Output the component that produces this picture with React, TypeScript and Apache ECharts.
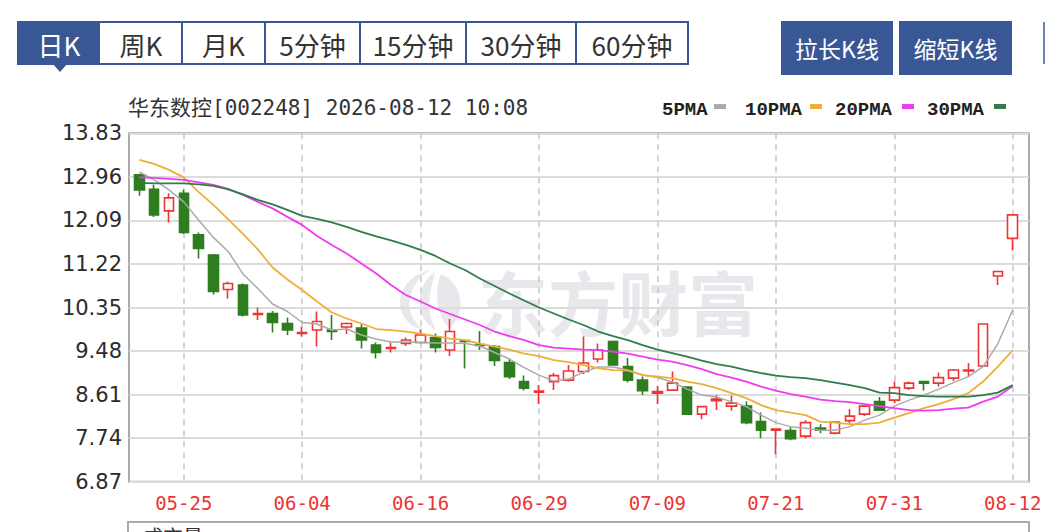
import React, { useEffect, useRef } from "react";
import * as echarts from "echarts";

const dates = [
  "05-20", "05-21", "05-22", "05-25", "05-26", "05-27", "05-28", "05-29", "06-01", "06-02",
  "06-03", "06-04", "06-05", "06-08", "06-09", "06-10", "06-11", "06-12", "06-15", "06-16",
  "06-17", "06-18", "06-22", "06-23", "06-24", "06-25", "06-26", "06-29", "06-30", "07-01",
  "07-02", "07-03", "07-06", "07-07", "07-08", "07-09", "07-10", "07-13", "07-14", "07-15",
  "07-16", "07-17", "07-20", "07-21", "07-22", "07-23", "07-24", "07-27", "07-28", "07-29",
  "07-30", "07-31", "08-03", "08-04", "08-05", "08-06", "08-07", "08-10", "08-11", "08-12",
];

const openP = [
  13.0, 12.71, 12.28, 12.63, 11.8, 11.4, 10.71, 10.8, 10.21, 10.23,
  10.03, 9.83, 9.9, 9.9, 9.96, 9.94, 9.6, 9.53, 9.63, 9.65,
  9.75, 9.5, 9.69, 9.61, 9.57, 9.25, 8.87, 8.66, 8.87, 8.9,
  9.07, 9.32, 9.67, 9.17, 8.9, 8.64, 8.7, 8.76, 8.22, 8.49,
  8.38, 8.38, 8.07, 7.9, 7.89, 7.78, 7.94, 7.84, 8.09, 8.22,
  8.47, 8.5, 8.74, 8.87, 8.84, 8.94, 9.08, 9.18, 10.98, 11.73,
];
const closeP = [
  12.7, 12.2, 12.54, 11.85, 11.53, 10.67, 10.83, 10.2, 10.23, 10.05,
  9.9, 9.85, 10.07, 9.87, 10.03, 9.7, 9.45, 9.55, 9.7, 9.8,
  9.55, 9.87, 9.67, 9.59, 9.29, 8.97, 8.74, 8.68, 8.99, 9.08,
  9.24, 9.5, 9.2, 8.9, 8.69, 8.67, 8.84, 8.22, 8.37, 8.52,
  8.44, 8.05, 7.9, 7.92, 7.73, 8.05, 7.9, 8.06, 8.18, 8.38,
  8.3, 8.75, 8.84, 8.84, 8.95, 9.1, 9.1, 10.02, 11.07, 12.2,
];
const lowP = [
  12.58, 12.16, 12.05, 11.82, 11.33, 10.61, 10.53, 10.17, 10.1, 9.85,
  9.8, 9.77, 9.57, 9.7, 9.82, 9.53, 9.33, 9.45, 9.58, 9.63,
  9.45, 9.38, 9.13, 9.5, 9.18, 8.92, 8.69, 8.42, 8.7, 8.87,
  9.02, 9.25, 9.19, 8.85, 8.6, 8.42, 8.69, 8.2, 8.12, 8.3,
  8.29, 8.02, 7.74, 7.42, 7.7, 7.74, 7.84, 7.82, 8.04, 8.18,
  8.29, 8.44, 8.7, 8.69, 8.77, 8.88, 8.97, 9.17, 10.8, 11.49,
];
const highP = [
  13.02, 12.8, 12.63, 12.7, 11.85, 11.42, 10.87, 10.83, 10.35, 10.28,
  10.15, 9.97, 10.27, 10.2, 10.05, 10.02, 9.65, 9.65, 9.75, 9.91,
  9.83, 10.12, 9.7, 9.88, 9.6, 9.33, 8.99, 8.8, 9.04, 9.2,
  9.77, 9.63, 9.69, 9.34, 8.97, 8.78, 9.07, 8.77, 8.38, 8.6,
  8.59, 8.47, 8.25, 7.93, 7.96, 8.1, 8.02, 8.07, 8.32, 8.42,
  8.56, 8.87, 8.87, 8.87, 9.05, 9.12, 9.24, 10.03, 11.08, 12.2,
];

const ma5 = [
  13.06, 12.9, 12.7, 12.46, 12.1, 11.75, 11.47, 11.02, 10.73, 10.42,
  10.27, 10.05, 10.02, 9.9, 9.92, 9.8, 9.72, 9.66, 9.66, 9.65,
  9.64, 9.64, 9.63, 9.58, 9.45, 9.32, 9.15, 9.0, 8.88, 8.92,
  9.06, 9.16, 9.16, 9.1, 9.0, 8.95, 8.86, 8.72, 8.6, 8.56,
  8.47, 8.37, 8.2, 8.05, 7.97, 7.94, 7.9, 7.9, 7.97, 8.1,
  8.2, 8.38, 8.5, 8.6, 8.72, 8.85, 8.97, 9.17, 9.63, 10.3,
];
const ma10 = [
  13.3, 13.22, 13.1, 12.95, 12.66, 12.4, 12.11, 11.82, 11.51, 11.15,
  10.91, 10.7, 10.47, 10.25, 10.13, 10.03, 9.92, 9.9, 9.87, 9.83,
  9.78, 9.73, 9.7, 9.63, 9.57, 9.51, 9.43, 9.38, 9.3, 9.26,
  9.2, 9.14, 9.1, 9.09, 9.0, 8.97, 8.94, 8.87, 8.82, 8.74,
  8.64, 8.54, 8.4, 8.3, 8.25, 8.2, 8.07, 8.05, 8.02, 8.02,
  8.05, 8.15, 8.24, 8.34, 8.42, 8.52, 8.64, 8.87, 9.17, 9.5,
];
const ma20 = [
  12.95, 12.94, 12.92, 12.9, 12.85, 12.8, 12.72, 12.6, 12.46, 12.33,
  12.16, 12.0, 11.78, 11.6, 11.43, 11.23, 11.03, 10.8, 10.6, 10.47,
  10.33, 10.22, 10.11, 10.0, 9.87, 9.78, 9.7, 9.6, 9.55, 9.53,
  9.51, 9.5, 9.47, 9.43, 9.37, 9.31, 9.27, 9.2, 9.12, 9.02,
  8.95, 8.87, 8.77, 8.69, 8.62, 8.57, 8.51, 8.48, 8.46, 8.42,
  8.38, 8.34, 8.3, 8.29, 8.3, 8.33, 8.35, 8.47, 8.57, 8.78,
];
const ma30 = [
  12.84, 12.83, 12.83, 12.83, 12.81, 12.78, 12.71, 12.61, 12.5, 12.41,
  12.3, 12.18, 12.12, 12.05, 11.96, 11.86, 11.77, 11.69, 11.6, 11.5,
  11.38, 11.23, 11.1, 10.93, 10.78, 10.63, 10.49, 10.35, 10.23, 10.11,
  10.0, 9.87, 9.78, 9.7, 9.6, 9.51, 9.44, 9.37, 9.29, 9.22,
  9.17, 9.1, 9.04, 8.99, 8.96, 8.94, 8.9, 8.85, 8.8, 8.74,
  8.65, 8.64, 8.6, 8.58, 8.57, 8.57, 8.57, 8.6, 8.65, 8.8,
];

const yTicks = [6.87, 7.74, 8.61, 9.48, 10.35, 11.22, 12.09, 12.96, 13.83];
const xTickLabels = ["05-25", "06-04", "06-16", "06-29", "07-09", "07-21", "07-31", "08-12"];
const tabs = ["日K", "周K", "月K", "5分钟", "15分钟", "30分钟", "60分钟"];
const buttons = ["拉长K线", "缩短K线"];
const titleText = "华东数控[002248] 2026-08-12 10:08";
const maNames = ["5PMA", "10PMA", "20PMA", "30PMA"];
const maColors = ["#aaaaaa", "#efae3c", "#f03cf0", "#2f7d4a"];
const watermark = "东方财富";

const BLUE = "#3a5795";

const LOGO_D =
  "M32 2 C14 6 2 20 2 34 C2 48 12 60 26 62 C14 54 10 42 12 30 C14 18 22 8 32 2 Z " +
  "M37 4 C25 12 20 26 22 40 C24 50 30 58 38 62 C32 52 30 40 32 28 C33 18 36 10 37 4 Z " +
  "M43 6 C38 18 38 32 42 44 C44 52 48 58 52 60 C60 52 64 42 62 30 C60 18 52 10 43 6 Z";

let logoRegistered = false;
function ensureLogo() {
  if (logoRegistered) return;
  echarts.graphic.registerShape("emlogo", echarts.graphic.extendPath(LOGO_D, {}) as any);
  logoRegistered = true;
}

function buildGraphic(): any[] {
  const g: any[] = [];
  // tabs
  const edges = [18, 100, 182, 265, 360, 466, 576, 688];
  g.push({
    type: "rect",
    shape: { x: 18, y: 22, width: 670, height: 42 },
    style: { fill: "#fff", stroke: BLUE, lineWidth: 2 },
  });
  g.push({
    type: "rect",
    shape: { x: 18, y: 22, width: 82, height: 42 },
    style: { fill: BLUE },
  });
  g.push({
    type: "polygon",
    shape: { points: [[52, 63], [68, 63], [60, 72]] },
    style: { fill: BLUE },
  });
  for (let k = 2; k < edges.length - 1; k++) {
    g.push({
      type: "line",
      shape: { x1: edges[k], y1: 22, x2: edges[k], y2: 64 },
      style: { stroke: BLUE, lineWidth: 2 },
    });
  }
  tabs.forEach((t, k) => {
    g.push({
      type: "text",
      x: (edges[k] + edges[k + 1]) / 2,
      y: 44,
      style: {
        text: t,
        fill: k === 0 ? "#ffffff" : "#333333",
        font: '26px "Noto Sans CJK SC", sans-serif',
        align: "center",
        verticalAlign: "middle",
      },
    });
  });
  // buttons
  const btn = [
    [781, 112],
    [899, 113],
  ];
  buttons.forEach((b, k) => {
    g.push({
      type: "rect",
      shape: { x: btn[k][0], y: 21, width: btn[k][1], height: 54 },
      style: { fill: BLUE },
    });
    g.push({
      type: "text",
      x: btn[k][0] + btn[k][1] / 2,
      y: 48,
      style: {
        text: b,
        fill: "#ffffff",
        font: '23px "Noto Sans CJK SC", sans-serif',
        align: "center",
        verticalAlign: "middle",
      },
    });
  });
  g.push({
    type: "line",
    shape: { x1: 1044, y1: 22, x2: 1044, y2: 64 },
    style: { stroke: BLUE, lineWidth: 1.5 },
  });
  // title
  g.push({
    type: "text",
    x: 128,
    y: 108,
    style: {
      text: titleText,
      fill: "#333333",
      font: '21px "DejaVu Sans Mono", "Noto Sans CJK SC", monospace',
      verticalAlign: "middle",
    },
  });
  // legend
  const lx = [662, 745, 835, 927];
  const sx = [714, 810, 902, 994];
  maNames.forEach((n, k) => {
    g.push({
      type: "text",
      x: lx[k],
      y: 110,
      style: {
        text: n,
        fill: "#222222",
        font: 'bold 19px "Liberation Mono", monospace',
        verticalAlign: "middle",
      },
    });
    g.push({
      type: "rect",
      shape: { x: sx[k], y: 104, width: 12, height: 5 },
      style: { fill: maColors[k] },
    });
  });
  // watermark
  g.push({
    type: "emlogo",
    x: 398,
    y: 268,
    scaleX: 1,
    scaleY: 1,
    silent: true,
    style: { fill: "#e8e8ec" },
  });
  g.push({
    type: "text",
    x: 478,
    y: 300,
    silent: true,
    style: {
      text: watermark,
      fill: "#e8e8ec",
      font: 'bold 70px "Noto Sans CJK SC", sans-serif',
      verticalAlign: "middle",
    },
  });
  // bottom (volume) panel top
  g.push({
    type: "rect",
    shape: { x: 128, y: 522, width: 901, height: 40 },
    style: { fill: "none", stroke: "#aaaaaa", lineWidth: 2 },
  });
  g.push({
    type: "text",
    x: 143,
    y: 526,
    style: {
      text: "成交量",
      fill: "#333333",
      font: '20px "Noto Sans CJK SC", sans-serif',
      verticalAlign: "top",
    },
  });
  return g;
}

export default function App() {
  const ref = useRef<HTMLDivElement>(null);
  useEffect(() => {
    if (!ref.current) return;
    ensureLogo();
    const chart = echarts.init(ref.current, undefined, { renderer: "svg" });
    const xTickIdx = xTickLabels.map((d) => dates.indexOf(d));
    const candleData = dates.map((_, i) => [i, openP[i], closeP[i], lowP[i], highP[i]]);
    const maSeries = [ma5, ma10, ma20, ma30].map((arr, k) => ({
      type: "line",
      name: maNames[k],
      data: arr.map((v, i) => [i, v]),
      showSymbol: false,
      symbol: "none",
      lineStyle: { color: maColors[k], width: k === 0 ? 1.5 : 1.8 },
      itemStyle: { color: maColors[k] },
      z: 3,
    }));
    chart.setOption({
      animation: false,
      backgroundColor: "#ffffff",
      grid: {
        left: 129,
        right: 23,
        top: 133.3,
        bottom: 50.3,
        show: true,
        borderColor: "#aaaaaa",
        borderWidth: 2,
        backgroundColor: "transparent",
      },
      xAxis: {
        type: "value",
        min: -0.7,
        max: 60.1,
        axisLine: { show: false },
        axisTick: { show: false, customValues: xTickIdx },
        axisLabel: {
          customValues: xTickIdx,
          formatter: (v: number) => dates[Math.round(v)] ?? "",
          color: "#ee3333",
          fontFamily: "DejaVu Sans Mono",
          fontSize: 19,
          margin: 12,
        },
        splitLine: {
          show: true,
          lineStyle: { color: "#c8c8c8", type: [6, 5], width: 1.5 },
        },
      },
      yAxis: {
        type: "value",
        min: 6.87,
        max: 13.83,
        axisLine: { show: false },
        axisTick: { show: false, customValues: yTicks },
        axisLabel: {
          customValues: yTicks,
          formatter: (v: number) => v.toFixed(2),
          color: "#2b2b2b",
          fontFamily: "DejaVu Sans",
          fontSize: 21,
          margin: 7,
        },
        splitLine: { show: true, lineStyle: { color: "#dcdcdc", width: 2 } },
      },
      series: [
        {
          type: "candlestick",
          name: "日K",
          data: candleData,
          encode: { x: 0, y: [1, 2, 3, 4] },
          barWidth: 10,
          itemStyle: {
            color: "#ffffff",
            color0: "#2e7d1f",
            borderColor: "#f03434",
            borderColor0: "#2e7d1f",
            borderWidth: 1.6,
          },
          z: 2,
        },
        ...maSeries,
      ],
      graphic: buildGraphic(),
    });
    return () => chart.dispose();
  }, []);
  return (
    <div
      style={{ position: "fixed", left: 0, top: 0, width: 1052, height: 532, background: "#fff" }}
    >
      <div ref={ref} style={{ width: 1052, height: 532 }} />
    </div>
  );
}
